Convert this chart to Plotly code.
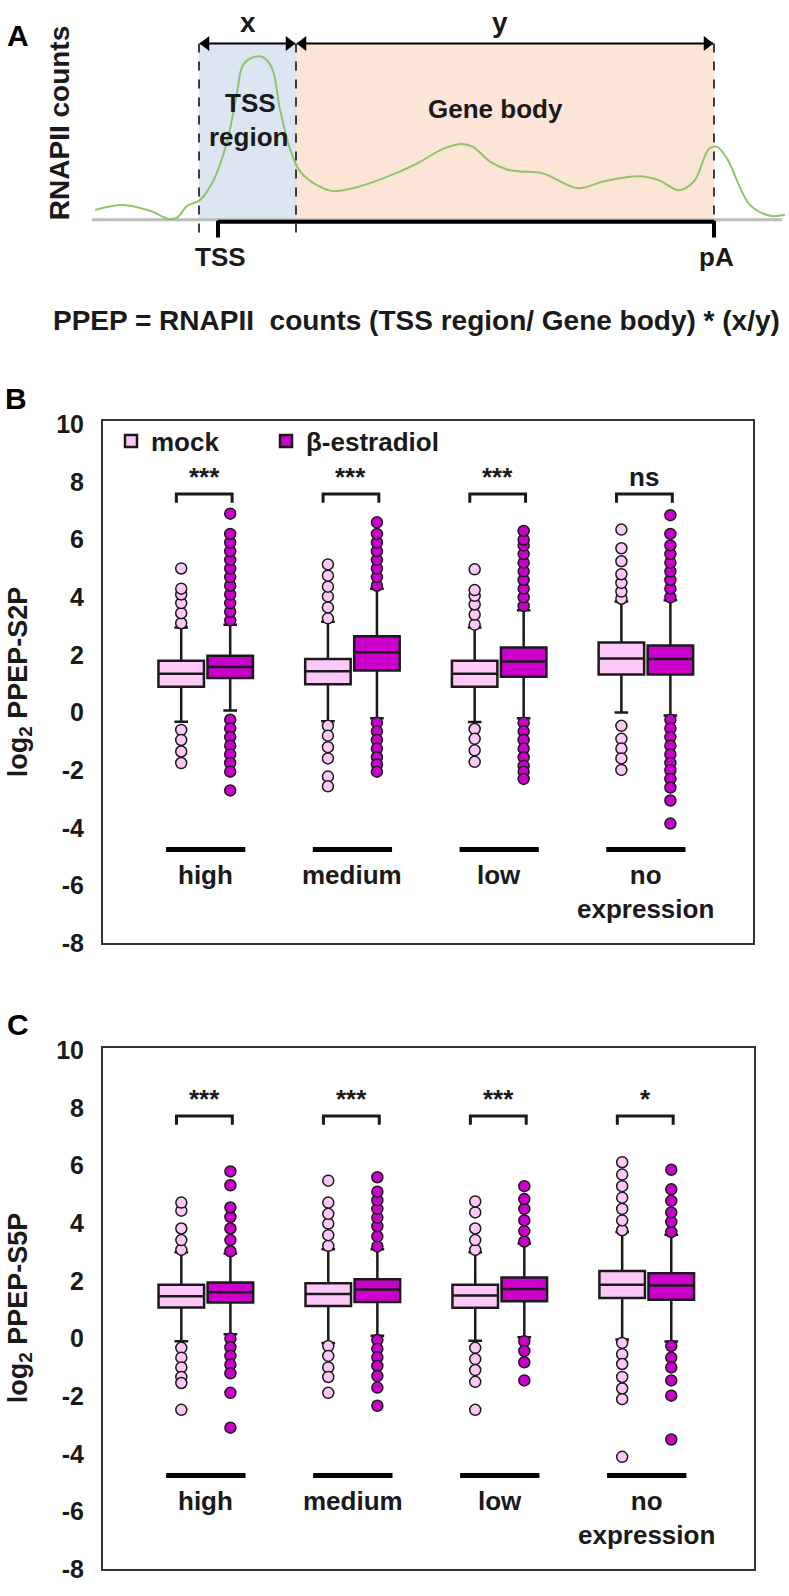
import plotly.graph_objects as go

FONT = "Liberation Sans, Arial, sans-serif"
W, H = 789, 1596
INK = "#1a1a1a"
MOCK_FILL = "#FDC8F8"
ESTR_FILL = "#CC00CC"

# ---------------- Panel A: schematic (frame units 789 x 330) ----------------
curve_x = [95, 123, 150, 168, 177, 187, 200, 213, 227, 237, 243, 253, 263, 272, 280, 290,
           300, 317, 333, 353, 383, 417, 443, 462, 473, 490, 507, 520, 543, 578, 604, 639,
           659, 679, 694, 709, 717, 727, 750, 770, 785]
curve_y = [202, 197, 203, 211, 210, 198, 192, 173, 133, 83, 55, 47, 47, 58, 100, 140,
           163, 177, 183, 180, 170, 155, 140, 135, 138, 153, 161, 163, 165, 180, 173, 168,
           172, 182, 173, 140, 138, 150, 197, 208, 207]
tss_region = [199, 296]       # x-extent of TSS region
gene_body = [296, 714]        # x-extent of gene body
region_top, baseline = 33, 212
gene_line = [218, 714]
axis_span = [92, 782]

# ---------------- Panels B / C: box statistics ----------------
categories = ["high", "medium", "low", "no<br>expression"]
cat_pos = [0, 1, 2, 3]
sig_B = ["***", "***", "***", "ns"]
sig_C = ["***", "***", "***", "*"]
y_ticks = [-8, -6, -4, -2, 0, 2, 4, 6, 8, 10]
y_tick_text = [str(v) for v in y_ticks]

# Panel B: log2 PPEP-S2P
B_mock_q1 = [0.90, 0.98, 0.90, 1.32]
B_mock_med = [1.35, 1.43, 1.35, 1.88]
B_mock_q3 = [1.80, 1.86, 1.80, 2.43]
B_mock_lo = [-0.32, -0.30, -0.33, 0.00]
B_mock_hi = [2.95, 3.15, 2.95, 3.85]
B_mock_out = [
    [3.10, 3.45, 3.80, 4.10, 4.30, 5.00, -0.60, -0.95, -1.35, -1.75],
    [3.27, 3.65, 4.03, 4.37, 4.75, 5.14, -0.46, -0.80, -1.20, -1.59, -2.22, -2.56],
    [3.05, 3.40, 3.75, 4.05, 4.25, 4.97, -0.57, -0.91, -1.31, -1.71],
    [3.95, 4.20, 4.50, 4.80, 5.25, 5.70, 6.35, -0.46, -0.91, -1.25, -1.59, -1.99],
]
B_estr_q1 = [1.20, 1.46, 1.24, 1.32]
B_estr_med = [1.58, 2.09, 1.77, 1.86]
B_estr_q3 = [1.97, 2.65, 2.26, 2.33]
B_estr_lo = [0.07, -0.20, -0.20, -0.10]
B_estr_hi = [3.05, 4.30, 3.55, 3.90]
B_estr_out = [
    [3.2, 3.5, 3.8, 4.1, 4.4, 4.7, 5.0, 5.3, 5.6, 5.9, 6.2, 6.9,
     -0.25, -0.55, -0.85, -1.15, -1.45, -1.75, -2.05, -2.7],
    [4.4, 4.7, 5.0, 5.3, 5.6, 5.9, 6.2, 6.6,
     -0.35, -0.65, -0.95, -1.25, -1.55, -1.8, -2.05],
    [3.7, 4.0, 4.3, 4.6, 4.9, 5.2, 5.5, 5.8, 6.0, 6.3,
     -0.35, -0.65, -0.95, -1.25, -1.55, -1.85, -2.05, -2.3],
    [4.0, 4.3, 4.6, 4.9, 5.2, 5.5, 5.8, 6.2, 6.85,
     -0.25, -0.55, -0.85, -1.15, -1.45, -1.75, -2.0, -2.3, -2.6, -3.05, -3.85],
]

# Panel C: log2 PPEP-S5P
C_mock_q1 = [1.08, 1.13, 1.07, 1.41]
C_mock_med = [1.47, 1.55, 1.50, 1.87]
C_mock_q3 = [1.87, 1.92, 1.87, 2.35]
C_mock_lo = [-0.09, -0.15, -0.07, -0.03]
C_mock_hi = [3.00, 3.10, 3.00, 3.70]
C_mock_out = [
    [3.08, 3.42, 3.82, 4.44, 4.72, -0.32, -0.66, -1.00, -1.33, -1.54, -2.47],
    [3.22, 3.59, 3.99, 4.33, 4.72, 5.48, -0.26, -0.60, -1.00, -1.33, -1.88],
    [3.08, 3.42, 3.82, 4.38, 4.76, -0.32, -0.71, -1.09, -1.50, -2.47],
    [3.76, 4.10, 4.50, 4.89, 5.29, 5.69, 6.12, -0.15, -0.54, -0.88, -1.33, -1.73, -2.10, -4.10],
]
C_estr_q1 = [1.25, 1.27, 1.30, 1.35]
C_estr_med = [1.61, 1.70, 1.72, 1.84]
C_estr_q3 = [1.95, 2.06, 2.12, 2.27]
C_estr_lo = [0.15, 0.10, 0.05, -0.10]
C_estr_hi = [2.95, 3.10, 3.30, 3.60]
C_estr_out = [
    [3.03, 3.42, 3.82, 4.22, 4.55, 5.32, 5.80, 0.00, -0.30, -0.60, -0.90, -1.20, -1.88, -3.09],
    [3.20, 3.55, 3.90, 4.20, 4.50, 4.80, 5.10, 5.60, -0.05, -0.35, -0.65, -0.95, -1.30, -1.70, -2.33],
    [3.37, 3.73, 4.10, 4.50, 4.84, 5.29, -0.09, -0.43, -0.82, -1.45],
    [3.70, 4.05, 4.38, 4.78, 5.18, 5.86, -0.26, -0.66, -1.00, -1.45, -1.98, -3.50],
]

# ---------------- layout geometry ----------------
def py(px):  # pixel row -> paper fraction
    return 1 - px / H

BOX_OFF = 0.167
BOX_W = 0.31

fig = go.Figure()

# ---------- Panel A ----------
fig.add_shape(type="rect", xref="x", yref="y", x0=tss_region[0], x1=tss_region[1],
              y0=region_top, y1=baseline, fillcolor="#DCE6F2", line_width=0, layer="below")
fig.add_shape(type="rect", xref="x", yref="y", x0=gene_body[0], x1=gene_body[1],
              y0=region_top, y1=baseline, fillcolor="#FCE4D6", line_width=0, layer="below")
fig.add_trace(go.Scatter(x=axis_span, y=[baseline, baseline], mode="lines",
                         line=dict(color="#BDBDBD", width=3), showlegend=False,
                         hoverinfo="skip", xaxis="x", yaxis="y"))
fig.add_trace(go.Scatter(x=[gene_line[0], gene_line[0], None, gene_line[0], gene_line[1], None,
                            gene_line[1], gene_line[1]],
                         y=[baseline + 1, baseline + 18, None, baseline + 2, baseline + 2, None,
                            baseline + 1, baseline + 18],
                         mode="lines", line=dict(color="black", width=4), showlegend=False,
                         hoverinfo="skip", xaxis="x", yaxis="y"))
for xv, ybot in [(tss_region[0], baseline + 17), (tss_region[1], baseline + 17),
                 (gene_body[1], baseline)]:
    fig.add_shape(type="line", xref="x", yref="y", x0=xv, x1=xv, y0=region_top, y1=ybot,
                  line=dict(color="black", width=1.5, dash="dash"))
fig.add_trace(go.Scatter(x=curve_x, y=curve_y, mode="lines", line_shape="spline",
                         line=dict(color="#8FC46E", width=2), showlegend=False,
                         hoverinfo="skip", xaxis="x", yaxis="y"))
# double-headed dimension arrows (x and y)
for a0, a1 in [tss_region, gene_body]:
    fig.add_trace(go.Scatter(x=[a0 + 1, a1 - 1], y=[region_top, region_top], mode="lines",
                             line=dict(color="black", width=2), showlegend=False,
                             hoverinfo="skip", xaxis="x", yaxis="y"))
    fig.add_trace(go.Scatter(x=[a0 + 7, a1 - 7], y=[region_top, region_top], mode="markers",
                             marker=dict(symbol=["triangle-left", "triangle-right"], size=13,
                                         color="black", line_width=0),
                             showlegend=False, hoverinfo="skip", xaxis="x", yaxis="y"))

def ann_a(x, y, text, size=26, angle=0):
    fig.add_annotation(x=x, y=y, xref="x", yref="y", text=text, showarrow=False,
                       textangle=angle, xanchor="center", yanchor="middle",
                       font=dict(family=FONT, size=size, color=INK, weight="bold"))

ann_a(248, 12, "x", 28)
ann_a(500, 12, "y", 28)
ann_a(250, 93, "TSS")
ann_a(248, 128, "region")
ann_a(495, 100, "Gene body")
ann_a(220, 250, "TSS")
ann_a(716, 250, "pA")
ann_a(416, 314, "PPEP = RNAPII  counts (TSS region/ Gene body) * (x/y)", 28)
ann_a(59, 114, "RNAPII counts", 28, -90)

# ---------- Panels B and C ----------
panels = [
    ("x2", "y2", B_mock_q1, B_mock_med, B_mock_q3, B_mock_lo, B_mock_hi, B_mock_out,
     B_estr_q1, B_estr_med, B_estr_q3, B_estr_lo, B_estr_hi, B_estr_out, sig_B, 7.58, True),
    ("x3", "y3", C_mock_q1, C_mock_med, C_mock_q3, C_mock_lo, C_mock_hi, C_mock_out,
     C_estr_q1, C_estr_med, C_estr_q3, C_estr_lo, C_estr_hi, C_estr_out, sig_C, 7.72, False),
]

for (xa, ya, mq1, mmed, mq3, mlo, mhi, mout, eq1, emed, eq3, elo, ehi, eout,
     sig, brk, legend) in panels:
    for name, q1, med, q3, lo, hi, out, fill, off, lg in [
        ("mock", mq1, mmed, mq3, mlo, mhi, mout, MOCK_FILL, -BOX_OFF, "legend"),
        ("β-estradiol", eq1, emed, eq3, elo, ehi, eout, ESTR_FILL, BOX_OFF, "legend2"),
    ]:
        xs = [c + off for c in cat_pos]
        fig.add_trace(go.Box(x=xs, q1=q1, median=med, q3=q3, lowerfence=lo, upperfence=hi,
                             width=BOX_W, fillcolor=fill, line=dict(color=INK, width=2.5),
                             whiskerwidth=0.3, boxpoints=False, name=name, legend=lg,
                             showlegend=legend, xaxis=xa, yaxis=ya, hoverinfo="skip"))
        ox, oy = [], []
        for c, vals in zip(cat_pos, out):
            ox += [c + off] * len(vals)
            oy += vals
        fig.add_trace(go.Scatter(x=ox, y=oy, mode="markers",
                                 marker=dict(size=11, color=fill, line=dict(color=INK, width=1.5)),
                                 showlegend=False, xaxis=xa, yaxis=ya, hoverinfo="skip"))
    # brackets + significance
    bx, by = [], []
    for c in cat_pos:
        bx += [c - 0.2, c - 0.2, c + 0.18, c + 0.18, None]
        by += [brk - 0.3, brk, brk, brk - 0.3, None]
    fig.add_trace(go.Scatter(x=bx, y=by, mode="lines", line=dict(color=INK, width=3),
                             showlegend=False, xaxis=xa, yaxis=ya, hoverinfo="skip"))
    for c, s in zip(cat_pos, sig):
        fig.add_annotation(x=c - 0.01, y=brk, xref=xa, yref=ya, text=s, showarrow=False,
                           yanchor="bottom", xanchor="center",
                           font=dict(family=FONT, size=26, color=INK, weight="bold"))
    # category bars and labels
    lx, ly = [], []
    for c in cat_pos:
        lx += [c - 0.27, c + 0.27, None]
        ly += [-4.75, -4.75, None]
    fig.add_trace(go.Scatter(x=lx, y=ly, mode="lines", line=dict(color="black", width=5),
                             showlegend=False, xaxis=xa, yaxis=ya, hoverinfo="skip"))
    for c, lab in zip(cat_pos, categories):
        fig.add_annotation(x=c, y=-5.05, xref=xa, yref=ya, text=lab, showarrow=False,
                           yanchor="top", xanchor="center",
                           font=dict(family=FONT, size=26, color=INK, weight="bold"))

# y-axis titles and panel letters
for yc, title in [(682, "log<sub>2</sub> PPEP-S2P"), (1318, "log<sub>2</sub> PPEP-S5P")]:
    fig.add_annotation(x=20 / W, y=py(yc), xref="paper", yref="paper", text=title,
                       showarrow=False, textangle=-90, xanchor="center", yanchor="middle",
                       font=dict(family=FONT, size=27, color=INK, weight="bold"))
for lab, xc, yc in [("A", 18, 25), ("B", 16, 394), ("C", 18, 1030)]:
    fig.add_annotation(x=xc / W, y=py(yc), xref="paper", yref="paper", text=lab,
                       showarrow=False, xanchor="center", yanchor="middle",
                       font=dict(family=FONT, size=30, color="black", weight="bold"))

hidden = dict(visible=False, showgrid=False, zeroline=False)
frame_y = dict(range=[-8, 10.1], tickvals=y_ticks, ticktext=y_tick_text, showgrid=False,
               zeroline=False, showline=True, mirror=True, linecolor="#333333", linewidth=2,
               ticks="", ticklabelstandoff=12,
               tickfont=dict(family=FONT, size=25, color=INK, weight="bold"))
frame_x = dict(range=[-0.70, 3.73], showticklabels=False, showgrid=False, zeroline=False,
               showline=True, mirror=True, linecolor="#333333", linewidth=2, ticks="")
leg_common = dict(orientation="h", xanchor="left", yanchor="top",
                  font=dict(family=FONT, size=26, color=INK, weight="bold"),
                  bgcolor="rgba(0,0,0,0)")

fig.update_layout(
    width=W, height=H, margin=dict(l=0, r=0, t=0, b=0),
    paper_bgcolor="white", plot_bgcolor="white",
    xaxis=dict(domain=[0, 1], range=[0, W], **hidden),
    yaxis=dict(domain=[py(330), 1], range=[330, 0], **hidden),
    xaxis2=dict(domain=[103 / W, 753 / W], anchor="y2", **frame_x),
    yaxis2=dict(domain=[py(947), py(417)], anchor="x2", **frame_y),
    xaxis3=dict(domain=[103 / W, 754 / W], anchor="y3", **frame_x),
    yaxis3=dict(domain=[py(1583), py(1053)], anchor="x3", **frame_y),
    legend=dict(x=111 / W, y=py(413), **leg_common),
    legend2=dict(x=266 / W, y=py(413), **leg_common),
    showlegend=True,
)

fig.write_html("out.html", config={"displayModeBar": False},
               post_script="document.body.style.margin='0px';")
